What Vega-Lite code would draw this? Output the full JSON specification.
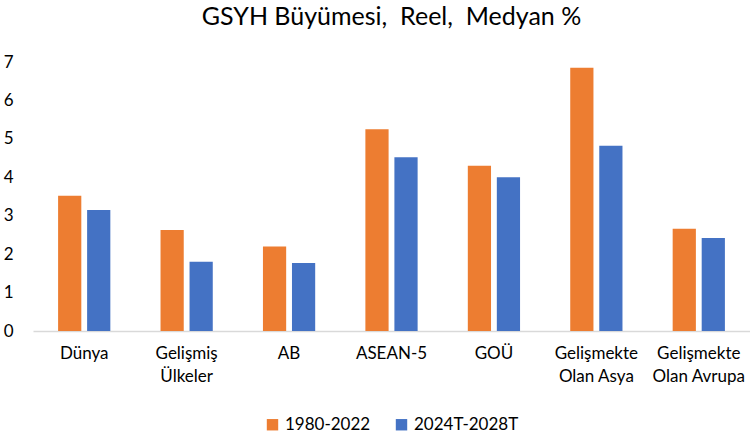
{
  "$schema": "https://vega.github.io/schema/vega-lite/v6.json",
  "autosize": {"type": "none"},
  "padding": {"left": 33, "top": 62, "right": 0, "bottom": 106},
  "width": 717,
  "height": 269,
  "background": "white",
  "title": {
    "text": "GSYH Büyümesi,\u00a0 Reel,\u00a0 Medyan %",
    "font": "Lato",
    "fontSize": 25,
    "fontWeight": "normal",
    "color": "#000000",
    "anchor": "middle",
    "offset": 23
  },
  "config": {
    "view": {"stroke": null},
    "font": "Lato"
  },
  "data": {
    "values": [
      {"bolge": "Dünya", "donem": "1980-2022", "deger": 3.52},
      {"bolge": "Dünya", "donem": "2024T-2028T", "deger": 3.15},
      {"bolge": "Gelişmiş|Ülkeler", "donem": "1980-2022", "deger": 2.63},
      {"bolge": "Gelişmiş|Ülkeler", "donem": "2024T-2028T", "deger": 1.8},
      {"bolge": "AB", "donem": "1980-2022", "deger": 2.2},
      {"bolge": "AB", "donem": "2024T-2028T", "deger": 1.77},
      {"bolge": "ASEAN-5", "donem": "1980-2022", "deger": 5.25},
      {"bolge": "ASEAN-5", "donem": "2024T-2028T", "deger": 4.52},
      {"bolge": "GOÜ", "donem": "1980-2022", "deger": 4.3},
      {"bolge": "GOÜ", "donem": "2024T-2028T", "deger": 4.0},
      {"bolge": "Gelişmekte|Olan Asya", "donem": "1980-2022", "deger": 6.85},
      {"bolge": "Gelişmekte|Olan Asya", "donem": "2024T-2028T", "deger": 4.82},
      {"bolge": "Gelişmekte|Olan Avrupa", "donem": "1980-2022", "deger": 2.66},
      {"bolge": "Gelişmekte|Olan Avrupa", "donem": "2024T-2028T", "deger": 2.42}
    ]
  },
  "mark": {"type": "bar"},
  "encoding": {
    "x": {
      "field": "bolge",
      "type": "nominal",
      "sort": null,
      "scale": {"paddingInner": 0.49, "paddingOuter": 0.245},
      "axis": {
        "title": null,
        "labelAngle": 0,
        "labelExpr": "split(datum.label, '|')",
        "labelFontSize": 17,
        "labelColor": "#000000",
        "labelPadding": 14,
        "labelLineHeight": 23,
        "labelBaseline": "top",
        "ticks": false,
        "domainColor": "#D9D9D9",
        "domainWidth": 1.5,
        "labelLimit": 0
      }
    },
    "xOffset": {
      "field": "donem",
      "type": "nominal",
      "scale": {"paddingInner": 0.2}
    },
    "y": {
      "field": "deger",
      "type": "quantitative",
      "scale": {"domain": [0, 7]},
      "axis": {
        "title": null,
        "grid": false,
        "domain": false,
        "ticks": false,
        "tickCount": 7,
        "labelFontSize": 17,
        "labelColor": "#000000",
        "labelPadding": 20
      }
    },
    "color": {
      "field": "donem",
      "type": "nominal",
      "scale": {"range": ["#ED7D31", "#4472C4"]},
      "legend": {
        "title": null,
        "orient": "none",
        "legendX": 231,
        "legendY": 354,
        "direction": "horizontal",
        "symbolType": "square",
        "symbolSize": 130,
        "symbolStrokeWidth": 0,
        "labelFontSize": 17,
        "labelColor": "#000000",
        "labelOffset": 4,
        "columnPadding": 22
      }
    }
  }
}
